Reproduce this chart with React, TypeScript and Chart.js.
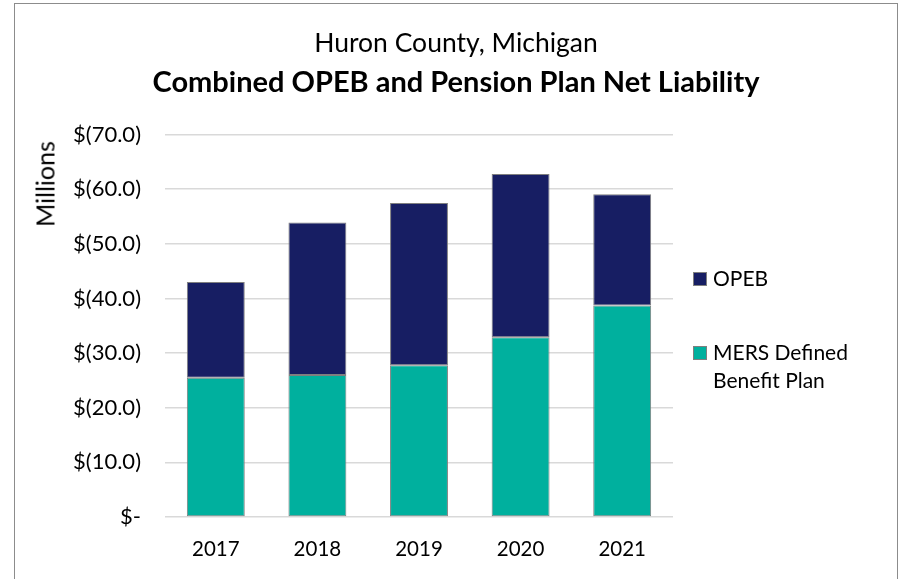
import React, { useEffect, useRef } from "react";
import { Chart, registerables } from "chart.js";

Chart.register(...registerables);

const years = ["2017", "2018", "2019", "2020", "2021"];
const mersValues = [25.5, 26.0, 27.8, 32.9, 38.7];
const opebValues = [17.5, 27.9, 29.7, 29.9, 20.4];
const seriesNames = ["OPEB", "MERS Defined Benefit Plan"];
const seriesColors = ["#171E63", "#00B09E"];
const yMin = 0;
const yMax = 70;
const yStep = 10;
const titleLine1 = "Huron County, Michigan";
const titleLine2 = "Combined OPEB and Pension Plan Net Liability";
const yAxisTitle = "Millions";

const FONT = "Lato, 'Open Sans', sans-serif";

export default function App() {
  const canvasRef = useRef<HTMLCanvasElement | null>(null);

  useEffect(() => {
    const canvas = canvasRef.current;
    if (!canvas) return;
    const chart = new Chart(canvas, {
      type: "bar",
      data: {
        labels: years,
        datasets: [
          {
            label: seriesNames[1],
            data: mersValues,
            backgroundColor: seriesColors[1],
            borderColor: "#7F7F7F",
            borderWidth: 1,
            borderSkipped: false,
            barPercentage: 0.57,
            categoryPercentage: 1,
          },
          {
            label: seriesNames[0],
            data: opebValues,
            backgroundColor: seriesColors[0],
            borderColor: "#7F7F7F",
            borderWidth: 1,
            borderSkipped: false,
            barPercentage: 0.57,
            categoryPercentage: 1,
          },
        ],
      },
      options: {
        animation: false,
        responsive: false,
        maintainAspectRatio: false,
        layout: { padding: { left: 0, right: 0, top: 0, bottom: 0 } },
        plugins: {
          legend: { display: false },
          tooltip: { enabled: false },
          title: {
            display: true,
            text: titleLine1,
            color: "#000",
            font: { family: FONT, size: 26.5, weight: "normal" },
            padding: { top: 24, bottom: 0 },
          },
          subtitle: {
            display: true,
            text: titleLine2,
            color: "#000",
            font: { family: FONT, size: 29, weight: "bold" },
            padding: { top: 5, bottom: 35 },
          },
        },
        scales: {
          x: {
            stacked: true,
            grid: { display: false, drawTicks: false },
            border: { display: false },
            ticks: {
              color: "#000",
              font: { family: FONT, size: 20.5 },
              padding: 20,
            },
            afterFit: (scale: any) => {
              scale.height = 62;
            },
          },
          y: {
            stacked: true,
            min: yMin,
            max: yMax,
            grid: { color: "#D9D9D9", lineWidth: 1.5, drawTicks: false },
            border: { display: false },
            ticks: {
              stepSize: yStep,
              color: "#000",
              font: { family: FONT, size: 22 },
              padding: 24,
              callback: (v: any) =>
                Number(v) === 0 ? "$-" : `$(${Number(v).toFixed(1)})`,
            },
            afterFit: (scale: any) => {
              scale.width = 150;
            },
          },
          legendSpace: {
            type: "linear",
            position: "right",
            display: true,
            grid: { display: false, drawTicks: false },
            border: { display: false },
            ticks: { display: false },
            afterFit: (scale: any) => {
              scale.width = 224;
            },
          },
        },
      },
    });
    return () => chart.destroy();
  }, []);

  const legendItems = [
    { name: seriesNames[0], color: seriesColors[0], top: 272 },
    { name: seriesNames[1], color: seriesColors[1], top: 346 },
  ];

  return (
    <div
      style={{
        position: "fixed",
        left: 0,
        top: 0,
        right: 0,
        bottom: 0,
        overflow: "hidden",
        background: "#fff",
        fontFamily: FONT,
      }}
    >
      <div
        style={{
          position: "absolute",
          left: 14,
          top: 3,
          width: 882,
          height: 600,
          border: "1px solid #8C8C8C",
          boxSizing: "content-box",
        }}
      />
      <canvas
        ref={canvasRef}
        width={882}
        height={575}
        style={{ position: "absolute", left: 15, top: 4, width: 882, height: 575 }}
      />
      <div
        style={{
          position: "absolute",
          left: 44.5,
          top: 184,
          transform: "translate(-50%, -50%) rotate(-90deg)",
          fontSize: 25,
          color: "#000",
          whiteSpace: "nowrap",
          lineHeight: 1,
        }}
      >
        {yAxisTitle}
      </div>
      {legendItems.map((it) => (
        <div key={it.name}>
          <div
            style={{
              position: "absolute",
              left: 693,
              top: it.top,
              width: 12,
              height: 12,
              background: it.color,
              border: "1px solid #7F7F7F",
            }}
          />
          <div
            style={{
              position: "absolute",
              left: 713,
              top: it.top - 8,
              width: 160,
              fontSize: 21,
              lineHeight: "28px",
              color: "#000",
            }}
          >
            {it.name}
          </div>
        </div>
      ))}
    </div>
  );
}
